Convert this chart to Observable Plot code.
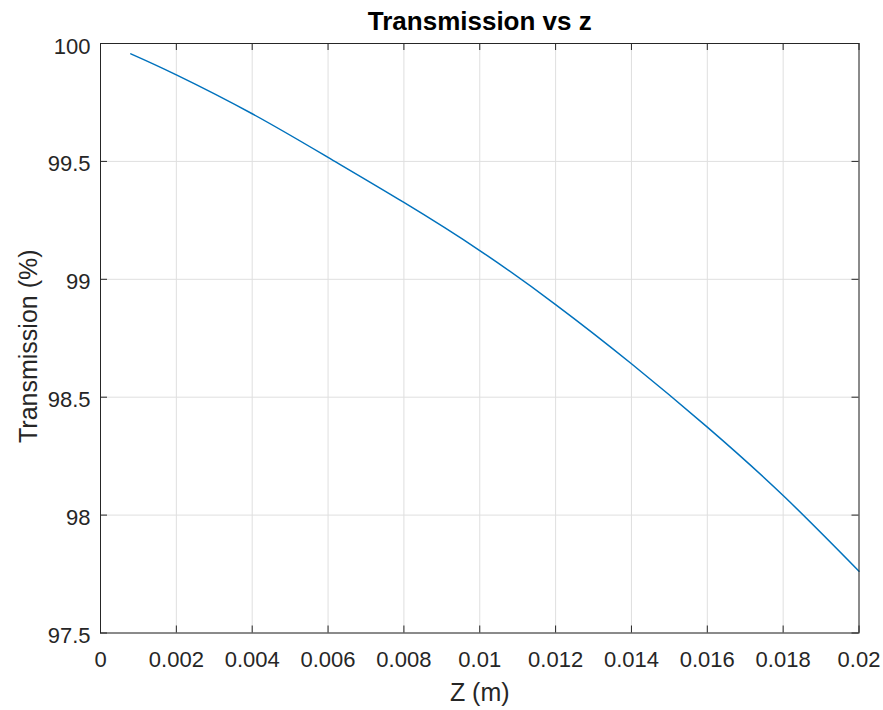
<!DOCTYPE html>
<html>
<head>
<meta charset="utf-8">
<script src="https://cdn.jsdelivr.net/npm/d3@7"></script>
<script src="https://cdn.jsdelivr.net/npm/@observablehq/plot@0.6"></script>
<style>
  html, body { margin: 0; padding: 0; background: #fff; }
  #chart svg { display: block; }
</style>
</head>
<body>
<div id="chart"></div>
<script>
// Data
const zValues = [0.0008, 0.002, 0.004, 0.006, 0.008, 0.010, 0.012, 0.014, 0.016, 0.018, 0.020];
const transmission = [99.956, 99.867, 99.702, 99.517, 99.326, 99.122, 98.893, 98.642, 98.373, 98.083, 97.762];

const xTicks = [0, 0.002, 0.004, 0.006, 0.008, 0.01, 0.012, 0.014, 0.016, 0.018, 0.02];
const xTickLabels = ["0", "0.002", "0.004", "0.006", "0.008", "0.01", "0.012", "0.014", "0.016", "0.018", "0.02"];
const yTicks = [97.5, 98, 98.5, 99, 99.5, 100];
const yTickLabels = ["97.5", "98", "98.5", "99", "99.5", "100"];

const titleText = "Transmission vs z";
const xLabel = "Z (m)";
const yLabel = "Transmission (%)";

const data = zValues.map((z, i) => ({z, t: transmission[i]}));

const ink = "#262626";
const gridColor = "#dfdfdf";
const font = "'Liberation Sans', Arial, Helvetica, sans-serif";

const W = 883, H = 710;
const mL = 100, mR = 24.5, mT = 43, mB = 77.5;
const tickLen = 7;
const frameW = W - mL - mR, frameH = H - mT - mB;

const chart = Plot.plot({
  width: W,
  height: H,
  marginLeft: mL,
  marginRight: mR,
  marginTop: mT,
  marginBottom: mB,
  style: {fontFamily: font, color: ink, background: "#fff"},
  x: {domain: [0, 0.02], ticks: xTicks},
  y: {domain: [97.5, 100], ticks: yTicks},
  marks: [
    Plot.gridX(xTicks, {stroke: gridColor, strokeOpacity: 1}),
    Plot.gridY(yTicks, {stroke: gridColor, strokeOpacity: 1}),
    Plot.line(data, {x: "z", y: "t", stroke: "#0072BD", strokeWidth: 1.5, curve: "natural"}),
    // inward ticks on all four sides
    Plot.ruleX(xTicks, {stroke: ink, insetTop: frameH - tickLen}),
    Plot.ruleX(xTicks, {stroke: ink, insetBottom: frameH - tickLen}),
    Plot.ruleY(yTicks, {stroke: ink, insetRight: frameW - tickLen}),
    Plot.ruleY(yTicks, {stroke: ink, insetLeft: frameW - tickLen}),
    // tick labels
    Plot.axisX(xTicks, {anchor: "bottom", tickSize: 0, tickPadding: 18.5, fontSize: 22, fill: ink,
      tickFormat: (d, i) => xTickLabels[i], label: null}),
    Plot.axisY(yTicks, {anchor: "left", tickSize: 0, tickPadding: 10, fontSize: 22, fill: ink, dy: 3,
      tickFormat: (d, i) => yTickLabels[i], label: null}),
    Plot.frame({stroke: ink, strokeWidth: 1}),
    // title and axis labels
    Plot.text([titleText], {frameAnchor: "top", lineAnchor: "middle", dy: -22, fontSize: 26, fontWeight: "bold", fill: "#000"}),
    Plot.text([xLabel], {frameAnchor: "bottom", lineAnchor: "middle", dy: 60.4, fontSize: 25, fill: ink}),
    Plot.text([yLabel], {frameAnchor: "left", textAnchor: "middle", lineAnchor: "middle", dx: -72, dy: 8, rotate: -90, fontSize: 25, fill: ink})
  ]
});

document.getElementById("chart").appendChild(chart);
</script>
</body>
</html>
